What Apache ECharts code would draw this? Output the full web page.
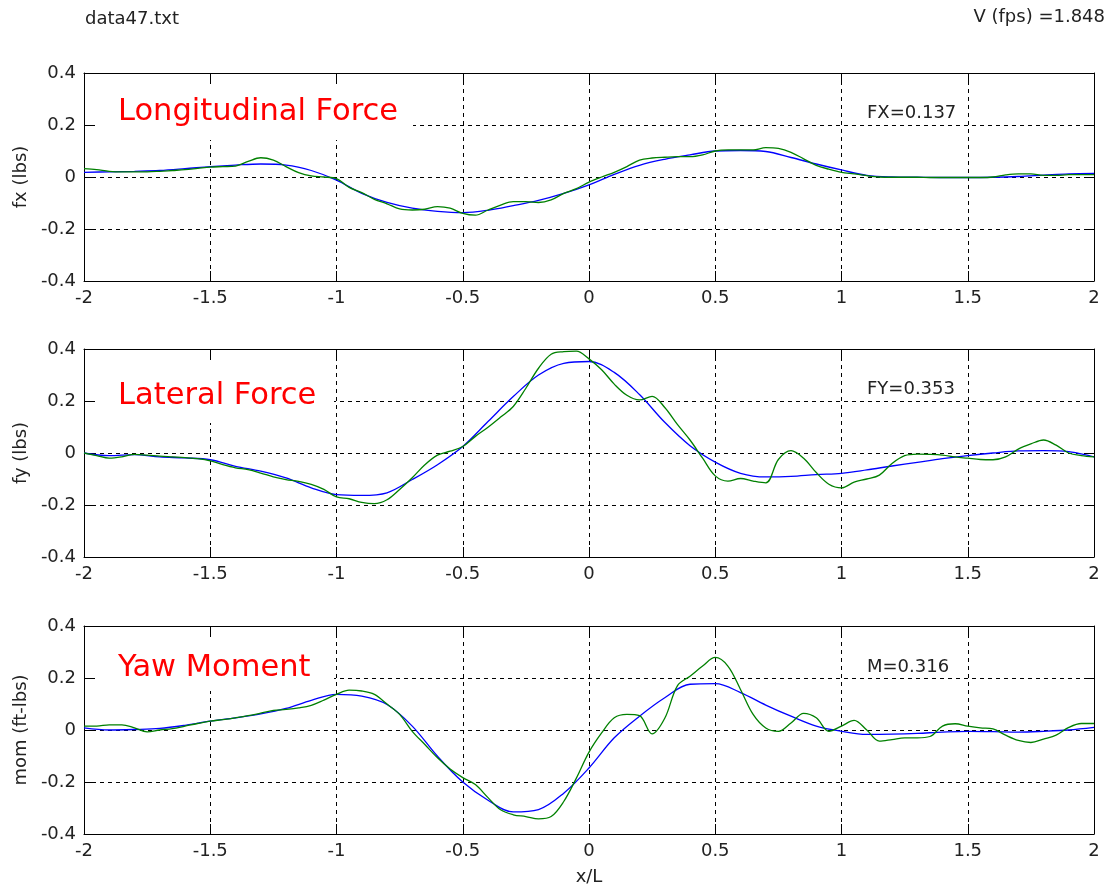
<!DOCTYPE html>
<html>
<head>
<meta charset="utf-8">
<script src="https://cdn.jsdelivr.net/npm/echarts@6/dist/echarts.min.js"></script>
<style>
html,body{margin:0;padding:0;background:#fff;}
#chart{width:1108px;height:890px;}
</style>
</head>
<body>
<div id="chart"></div>
<script>
// ---------- DATA ----------
const fileLabel = "data47.txt";
const speedLabel = "V (fps) =1.848";
const panelTitles = ["Longitudinal Force", "Lateral Force", "Yaw Moment"];
const panelNotes = ["FX=0.137", "FY=0.353", "M=0.316"];
const yNames = ["fx (lbs)", "fy (lbs)", "mom (ft-lbs)"];
const xName = "x/L";

const xCoarse = [-2.0,-1.9,-1.8,-1.7,-1.6,-1.5,-1.4,-1.3,-1.2,-1.1,-1.0,-0.9,-0.8,-0.7,-0.6,-0.5,-0.4,-0.3,-0.2,-0.1,0.0,0.1,0.2,0.3,0.4,0.5,0.6,0.7,0.8,0.9,1.0,1.1,1.2,1.3,1.4,1.5,1.6,1.7,1.8,1.9,2.0];
const xFine = [-2.0,-1.95,-1.9,-1.85,-1.8,-1.75,-1.7,-1.65,-1.6,-1.55,-1.5,-1.45,-1.4,-1.35,-1.3,-1.25,-1.2,-1.15,-1.1,-1.05,-1.0,-0.95,-0.9,-0.85,-0.8,-0.75,-0.7,-0.65,-0.6,-0.55,-0.5,-0.45,-0.4,-0.35,-0.3,-0.25,-0.2,-0.15,-0.1,-0.05,0.0,0.05,0.1,0.15,0.2,0.25,0.3,0.35,0.4,0.45,0.5,0.55,0.6,0.65,0.7,0.75,0.8,0.85,0.9,0.95,1.0,1.05,1.1,1.15,1.2,1.25,1.3,1.35,1.4,1.45,1.5,1.55,1.6,1.65,1.7,1.75,1.8,1.85,1.9,1.95,2.0];

// Longitudinal force (fx)
const fxBlue = [0.018,0.02,0.022,0.025,0.032,0.04,0.046,0.05,0.046,0.025,-0.012,-0.063,-0.098,-0.12,-0.132,-0.137,-0.128,-0.11,-0.09,-0.063,-0.03,0.01,0.045,0.068,0.085,0.1,0.102,0.098,0.075,0.05,0.027,0.006,0.0,-0.001,-0.002,-0.002,-0.001,0.002,0.007,0.012,0.014];
const fxGreen = [0.032,0.028,0.022,0.02,0.02,0.02,0.022,0.025,0.028,0.033,0.038,0.04,0.042,0.06,0.074,0.065,0.04,0.017,0.004,0.0,-0.006,-0.04,-0.06,-0.086,-0.103,-0.123,-0.127,-0.124,-0.114,-0.12,-0.14,-0.147,-0.127,-0.108,-0.095,-0.095,-0.098,-0.088,-0.063,-0.045,-0.02,0.0,0.018,0.04,0.065,0.073,0.076,0.078,0.078,0.085,0.1,0.104,0.104,0.104,0.113,0.11,0.095,0.07,0.045,0.03,0.018,0.012,0.005,0.0,-0.001,-0.001,-0.001,-0.002,-0.002,-0.002,-0.002,-0.002,0.0,0.008,0.012,0.012,0.006,0.006,0.009,0.009,0.009];

// Lateral force (fy)
const fyBlue = [0.0,-0.01,-0.006,-0.015,-0.019,-0.026,-0.051,-0.07,-0.096,-0.134,-0.16,-0.163,-0.153,-0.102,-0.045,0.025,0.121,0.217,0.3,0.345,0.352,0.31,0.225,0.118,0.028,-0.035,-0.078,-0.092,-0.09,-0.083,-0.078,-0.065,-0.05,-0.036,-0.022,-0.01,0.0,0.008,0.009,0.005,-0.015];
const fyGreen = [0.0,-0.01,-0.02,-0.015,-0.005,-0.008,-0.012,-0.015,-0.018,-0.022,-0.03,-0.045,-0.057,-0.064,-0.077,-0.092,-0.102,-0.109,-0.121,-0.14,-0.169,-0.176,-0.19,-0.195,-0.18,-0.14,-0.095,-0.045,-0.008,0.007,0.025,0.064,0.099,0.138,0.179,0.249,0.326,0.38,0.39,0.392,0.362,0.32,0.265,0.222,0.204,0.218,0.175,0.11,0.05,-0.02,-0.088,-0.108,-0.098,-0.108,-0.115,-0.025,0.009,-0.02,-0.075,-0.12,-0.134,-0.112,-0.1,-0.085,-0.04,-0.01,-0.004,-0.005,-0.008,-0.015,-0.02,-0.025,-0.026,-0.015,0.015,0.035,0.05,0.03,0.0,-0.01,-0.015];

// Yaw moment (mom)
const momBlue = [0.008,0.0,0.002,0.006,0.018,0.034,0.047,0.062,0.083,0.114,0.137,0.13,0.098,0.015,-0.101,-0.2,-0.27,-0.315,-0.306,-0.243,-0.146,-0.03,0.053,0.124,0.176,0.178,0.144,0.096,0.053,0.015,-0.005,-0.017,-0.016,-0.013,-0.008,-0.005,-0.006,-0.008,-0.005,0.0,0.01];
const momGreen = [0.015,0.015,0.02,0.02,0.008,-0.007,0.0,0.005,0.015,0.025,0.034,0.04,0.047,0.055,0.065,0.075,0.079,0.085,0.095,0.115,0.137,0.153,0.15,0.137,0.1,0.06,-0.005,-0.056,-0.107,-0.15,-0.183,-0.21,-0.26,-0.307,-0.326,-0.333,-0.342,-0.333,-0.275,-0.185,-0.085,-0.011,0.047,0.06,0.055,-0.015,0.045,0.17,0.207,0.246,0.279,0.246,0.156,0.06,0.008,-0.005,0.027,0.064,0.047,-0.005,0.015,0.037,0.0,-0.043,-0.037,-0.03,-0.03,-0.025,0.015,0.024,0.015,0.008,0.004,-0.02,-0.04,-0.048,-0.035,-0.02,0.01,0.025,0.025];

const blueSets = [fxBlue, fyBlue, momBlue];
const greenSets = [fxGreen, fyGreen, momGreen];

// ---------- LAYOUT ----------
const FONT = "DejaVu Sans";
const gridTops = [73, 349, 626];
const gridH = 208;
const gridLeft = 84, gridRight = 14;
const textColor = "#222";

const chart = echarts.init(document.getElementById('chart'), null, {renderer: 'canvas'});

const grids = [], xAxes = [], yAxes = [], series = [];
for (let i = 0; i < 3; i++) {
  grids.push({left: gridLeft, right: gridRight, top: gridTops[i], height: gridH, containLabel: false});
  const tick = {show: true, inside: true, length: 10, lineStyle: {color: '#000', width: 1}};
  xAxes.push({
    gridIndex: i, type: 'value', min: -2, max: 2, interval: 0.5, position: 'bottom',
    axisLine: {show: true, onZero: false, lineStyle: {color: '#000', width: 1}},
    axisTick: tick,
    splitLine: {show: true, lineStyle: {color: '#000', type: [4, 4], width: 1}},
    axisLabel: {show: true, fontFamily: FONT, fontSize: 18, color: textColor, margin: 8, showMinLabel: true, showMaxLabel: true},
    name: i === 2 ? xName : '', nameLocation: 'middle', nameGap: 34,
    nameTextStyle: {fontFamily: FONT, fontSize: 18, color: textColor}
  });
  xAxes.push({
    gridIndex: i, type: 'value', min: -2, max: 2, interval: 0.5, position: 'top',
    axisLine: {show: true, onZero: false, lineStyle: {color: '#000', width: 1}},
    axisTick: tick, splitLine: {show: false}, axisLabel: {show: false}
  });
  yAxes.push({
    gridIndex: i, type: 'value', min: -0.4, max: 0.4, interval: 0.2, position: 'left',
    axisLine: {show: true, onZero: false, lineStyle: {color: '#000', width: 1}},
    axisTick: tick,
    splitLine: {show: true, lineStyle: {color: '#000', type: [4, 4], width: 1}},
    axisLabel: {show: true, fontFamily: FONT, fontSize: 18, color: textColor, margin: 8, showMinLabel: true, showMaxLabel: true},
    name: yNames[i], nameLocation: 'middle', nameGap: 46, nameRotate: 90,
    nameTextStyle: {fontFamily: FONT, fontSize: 18, color: textColor}
  });
  yAxes.push({
    gridIndex: i, type: 'value', min: -0.4, max: 0.4, interval: 0.2, position: 'right',
    axisLine: {show: true, onZero: false, lineStyle: {color: '#000', width: 1}},
    axisTick: tick, splitLine: {show: false}, axisLabel: {show: false}
  });
  series.push({
    type: 'line', xAxisIndex: 2 * i, yAxisIndex: 2 * i, showSymbol: false, smooth: 0.35,
    lineStyle: {color: '#0000ff', width: 1.3}, itemStyle: {color: '#0000ff'}, z: 3,
    data: xCoarse.map((x, k) => [x, blueSets[i][k]])
  });
  series.push({
    type: 'line', xAxisIndex: 2 * i, yAxisIndex: 2 * i, showSymbol: false, smooth: 0.35,
    lineStyle: {color: '#008000', width: 1.3}, itemStyle: {color: '#008000'}, z: 4,
    data: xFine.map((x, k) => [x, greenSets[i][k]])
  });
}

// white boxes behind titles (hide gridlines like the original)
const boxes = [
  {x: 95, y: 84, w: 318, h: 56},
  {x: 95, y: 360, w: 239, h: 63},
  {x: 95, y: 637, w: 239, h: 54}
];
const titleY = [110, 394, 666];
const noteY = [111, 387.5, 665];
const graphics = [];
for (let i = 0; i < 3; i++) {
  graphics.push({type: 'rect', z: 1, silent: true,
    shape: {x: boxes[i].x, y: boxes[i].y, width: boxes[i].w, height: boxes[i].h},
    style: {fill: '#fff'}});
  graphics.push({type: 'text', z: 10, left: 118, top: titleY[i] - 13,
    style: {text: panelTitles[i], fill: '#ff0000', font: '30.5px "' + FONT + '"'}});
  graphics.push({type: 'text', z: 10, left: 867, top: noteY[i] - 7,
    style: {text: panelNotes[i], fill: textColor, font: '18px "' + FONT + '"'}});
}
graphics.push({type: 'text', z: 10, left: 85, top: 10,
  style: {text: fileLabel, fill: textColor, font: '18px "' + FONT + '"'}});
graphics.push({type: 'text', z: 10, right: 3, top: 8,
  style: {text: speedLabel, fill: textColor, font: '18px "' + FONT + '"'}});

chart.setOption({
  backgroundColor: '#fff',
  animation: false,
  grid: grids,
  xAxis: xAxes,
  yAxis: yAxes,
  series: series,
  graphic: graphics
});
</script>
</body>
</html>
